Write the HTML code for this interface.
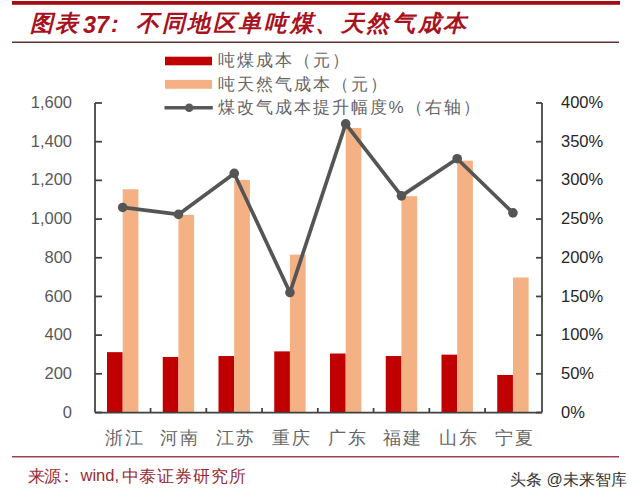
<!DOCTYPE html>
<html><head><meta charset="utf-8"><style>
html,body{margin:0;padding:0;background:#fff;}
body{width:640px;height:502px;overflow:hidden;}
svg{display:block;font-family:"Liberation Sans",sans-serif;}
</style></head><body>
<svg width="640" height="502" viewBox="0 0 640 502">
<rect x="12" y="1" width="608" height="3.8" fill="#A50D14"/>
<g font-weight="bold" font-style="italic" fill="#A8121E">
<text x="30" y="31" font-size="23" letter-spacing="1.5">图表</text>
<text x="83" y="32.6" font-size="23.5">37</text>
<text x="111" y="31.5" font-size="23">:</text>
<text x="136" y="31" font-size="23" letter-spacing="2.6">不同地区单吨煤、天然气成本</text>
</g>
<rect x="12" y="41.5" width="607" height="1.5" fill="#5E3232"/>
<g><rect x="107.00" y="352.15" width="15.7" height="60.35" fill="#C00000"/><rect x="122.70" y="189.27" width="15.7" height="223.23" fill="#F4B183"/><rect x="162.75" y="356.98" width="15.7" height="55.52" fill="#C00000"/><rect x="178.45" y="215.00" width="15.7" height="197.50" fill="#F4B183"/><rect x="218.50" y="356.02" width="15.7" height="56.48" fill="#C00000"/><rect x="234.20" y="179.99" width="15.7" height="232.51" fill="#F4B183"/><rect x="274.25" y="351.37" width="15.7" height="61.13" fill="#C00000"/><rect x="289.95" y="254.66" width="15.7" height="157.84" fill="#F4B183"/><rect x="330.00" y="353.50" width="15.7" height="59.00" fill="#C00000"/><rect x="345.70" y="127.95" width="15.7" height="284.55" fill="#F4B183"/><rect x="385.75" y="356.02" width="15.7" height="56.48" fill="#C00000"/><rect x="401.45" y="196.24" width="15.7" height="216.26" fill="#F4B183"/><rect x="441.50" y="354.66" width="15.7" height="57.84" fill="#C00000"/><rect x="457.20" y="160.64" width="15.7" height="251.86" fill="#F4B183"/><rect x="497.25" y="374.97" width="15.7" height="37.53" fill="#C00000"/><rect x="512.95" y="277.48" width="15.7" height="135.02" fill="#F4B183"/></g>
<g stroke="#404040" stroke-width="1.75" fill="none"><line x1="95.0" y1="103.0" x2="95.0" y2="412.5" /><line x1="542.0" y1="103.0" x2="542.0" y2="412.5" /><line x1="95.0" y1="412.5" x2="542.0" y2="412.5" /><line x1="95.0" y1="412.50" x2="102.0" y2="412.50" /><line x1="536.0" y1="412.50" x2="542.0" y2="412.50" /><line x1="95.0" y1="373.81" x2="102.0" y2="373.81" /><line x1="536.0" y1="373.81" x2="542.0" y2="373.81" /><line x1="95.0" y1="335.12" x2="102.0" y2="335.12" /><line x1="536.0" y1="335.12" x2="542.0" y2="335.12" /><line x1="95.0" y1="296.44" x2="102.0" y2="296.44" /><line x1="536.0" y1="296.44" x2="542.0" y2="296.44" /><line x1="95.0" y1="257.75" x2="102.0" y2="257.75" /><line x1="536.0" y1="257.75" x2="542.0" y2="257.75" /><line x1="95.0" y1="219.06" x2="102.0" y2="219.06" /><line x1="536.0" y1="219.06" x2="542.0" y2="219.06" /><line x1="95.0" y1="180.37" x2="102.0" y2="180.37" /><line x1="536.0" y1="180.37" x2="542.0" y2="180.37" /><line x1="95.0" y1="141.69" x2="102.0" y2="141.69" /><line x1="536.0" y1="141.69" x2="542.0" y2="141.69" /><line x1="95.0" y1="103.00" x2="102.0" y2="103.00" /><line x1="536.0" y1="103.00" x2="542.0" y2="103.00" /><line x1="150.56" y1="412.5" x2="150.56" y2="408.0" /><line x1="206.31" y1="412.5" x2="206.31" y2="408.0" /><line x1="262.06" y1="412.5" x2="262.06" y2="408.0" /><line x1="317.81" y1="412.5" x2="317.81" y2="408.0" /><line x1="373.56" y1="412.5" x2="373.56" y2="408.0" /><line x1="429.31" y1="412.5" x2="429.31" y2="408.0" /><line x1="485.06" y1="412.5" x2="485.06" y2="408.0" /></g>
<polyline points="122.70,207.46 178.45,214.42 234.20,173.41 289.95,292.57 345.70,123.89 401.45,195.85 457.20,158.71 512.95,212.87" fill="none" stroke="#555" stroke-width="3.7" stroke-linejoin="round"/>
<g fill="#555"><circle cx="122.70" cy="207.46" r="4.8"/><circle cx="178.45" cy="214.42" r="4.8"/><circle cx="234.20" cy="173.41" r="4.8"/><circle cx="289.95" cy="292.57" r="4.8"/><circle cx="345.70" cy="123.89" r="4.8"/><circle cx="401.45" cy="195.85" r="4.8"/><circle cx="457.20" cy="158.71" r="4.8"/><circle cx="512.95" cy="212.87" r="4.8"/></g>
<g font-size="16.5" fill="#595959"><text x="72" y="417.60" text-anchor="end">0</text><text x="72" y="378.91" text-anchor="end">200</text><text x="72" y="340.23" text-anchor="end">400</text><text x="72" y="301.54" text-anchor="end">600</text><text x="72" y="262.85" text-anchor="end">800</text><text x="72" y="224.16" text-anchor="end">1,000</text><text x="72" y="185.47" text-anchor="end">1,200</text><text x="72" y="146.79" text-anchor="end">1,400</text><text x="72" y="108.10" text-anchor="end">1,600</text></g>
<g font-size="16.5" fill="#262626"><text x="561" y="417.60">0%</text><text x="561" y="378.91">50%</text><text x="561" y="340.23">100%</text><text x="561" y="301.54">150%</text><text x="561" y="262.85">200%</text><text x="561" y="224.16">250%</text><text x="561" y="185.47">300%</text><text x="561" y="146.79">350%</text><text x="561" y="108.10">400%</text></g>
<g font-size="18" fill="#666" letter-spacing="2"><text x="124.70" y="443.5" text-anchor="middle">浙江</text><text x="180.45" y="443.5" text-anchor="middle">河南</text><text x="236.20" y="443.5" text-anchor="middle">江苏</text><text x="291.95" y="443.5" text-anchor="middle">重庆</text><text x="347.70" y="443.5" text-anchor="middle">广东</text><text x="403.45" y="443.5" text-anchor="middle">福建</text><text x="459.20" y="443.5" text-anchor="middle">山东</text><text x="514.95" y="443.5" text-anchor="middle">宁夏</text></g>
<rect x="165" y="56.7" width="47" height="8.6" fill="#C00000"/>
<rect x="165" y="79.9" width="47" height="8.9" fill="#F4B183"/>
<line x1="164.5" y1="107.7" x2="212.8" y2="107.7" stroke="#595959" stroke-width="3.4"/>
<circle cx="189.2" cy="107.7" r="4.3" fill="#595959"/>
<g font-size="17" fill="#666" letter-spacing="2">
<text x="218" y="66.3">吨煤成本（元）</text>
<text x="218" y="89.8">吨天然气成本（元）</text>
<text x="217.5" y="113.3">煤改气成本提升幅度%（右轴）</text>
</g>
<rect x="12" y="456" width="607" height="1.5" fill="#A04050"/>
<g font-size="16.5" fill="#962B33">
<text x="27.8" y="482" letter-spacing="-0.5">来源</text><text x="58.3" y="482">：</text>
<text x="80.5" y="481.3">wind,</text>
<text x="121.5" y="482" letter-spacing="0.85">中泰证券研究所</text>
</g>
<text x="510" y="485" font-size="16" fill="#333">头条 @未来智库</text>
</svg>
</body></html>
